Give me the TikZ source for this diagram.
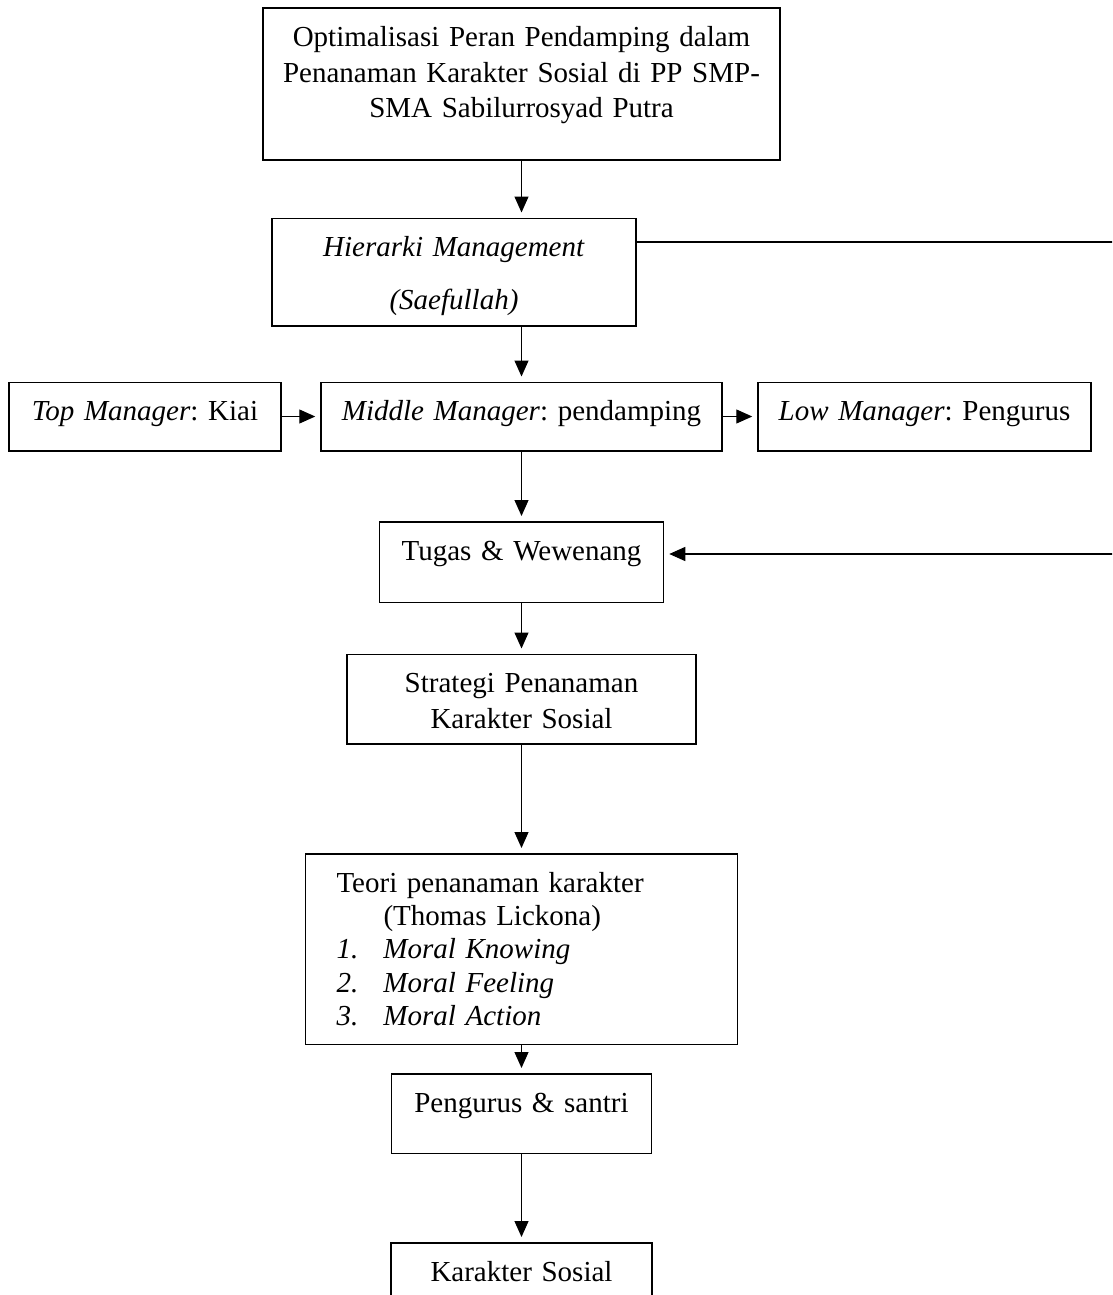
\documentclass[tikz,border=0pt]{standalone}
\usepackage{fontspec}
\setmainfont{Liberation Serif}
\usepackage{tikz}
\usetikzlibrary{arrows.meta}
\frenchspacing
\tikzstyle{box} = [rectangle, draw, line width=1.5pt, inner sep=0pt, align=center, text height=38.5pt, font=\fontsize{29}{35.5}\selectfont]
\tikzstyle{arrow} = [line width=1.2pt, ->, >={Triangle[length=16pt, width=14pt]}, shorten >=5pt]

\begin{document}
\begin{tikzpicture}[x=1pt, y=-1pt, node distance=150pt]
        \useasboundingbox (0,0) rectangle (1112,1295);
        \clip (0,0) rectangle (1112,1295);

        % Judul
        \node (title) [box, text width=517pt, text depth=113pt] at (521.5,84) {Optimalisasi Peran Pendamping dalam\\Penanaman Karakter Sosial di PP SMP-\\SMA Sabilurrosyad Putra};
        \node (hierarki) [box, text width=364pt, text depth=69pt, below of=title, xshift=-67.5pt, yshift=-38pt] {\textit{Hierarki Management}\\[17.5pt]\textit{(Saefullah)}};

        % Hierarki
        \node (middle) [box, text width=401pt, text depth=30pt, below of=hierarki, xshift=67.5pt, yshift=5.5pt] {\textit{Middle Manager}: pendamping};
        \node (topmgr) [box, text width=272pt, text depth=30pt, left of=middle, xshift=-226.5pt] {\textit{Top Manager}: Kiai};
        \node (low) [box, text width=333pt, text depth=30pt, right of=middle, xshift=253pt] {\textit{Low Manager}: Pengurus};

        % Alur bawah
        \node (tugas) [box, text width=284pt, text depth=42pt, below of=middle, yshift=4.5pt] {Tugas \& Wewenang};
        \node (strategi) [box, text width=349pt, text depth=51pt, below of=tugas, yshift=13pt] {Strategi Penanaman\\Karakter Sosial};
        \node (teori) [box, align=left, text width=370pt, inner xsep=31pt, text depth=152pt, font=\fontsize{29}{33.3}\selectfont, below of=strategi, yshift=-100pt] {Teori penanaman karakter\\\hspace*{47pt}(Thomas Lickona)\\\makebox[47pt][l]{\textit{1.}}\textit{Moral Knowing}\\\makebox[47pt][l]{\textit{2.}}\textit{Moral Feeling}\\\makebox[47pt][l]{\textit{3.}}\textit{Moral Action}};
        \node (pengurus) [box, text width=260pt, text depth=41pt, below of=teori, yshift=-14.5pt] {Pengurus \& santri};
        \node (karakter) [box, text width=261pt, text depth=40pt, below of=pengurus, yshift=-18.5pt] {Karakter Sosial};

        % Arrows
        \draw [arrow] (title.south) -- (title.south |- hierarki.north);
        \draw [arrow] (hierarki.south -| middle.north) -- (middle.north);
        \draw [arrow] (topmgr) -- (middle);
        \draw [arrow] (middle) -- (low);
        \draw [arrow] (middle) -- (tugas);
        \draw [arrow] (tugas) -- (strategi);
        \draw [arrow] (strategi) -- (teori);
        \draw [arrow] (teori) -- (pengurus);
        \draw [arrow] (pengurus) -- (karakter);

        % Garis samping
        \coordinate (sidetop) at (1130,242);
        \coordinate (sidebot) at (1130,554);
        \draw [arrow] (sidetop -| hierarki.east) -- (sidetop) -- (sidebot) -- (sidebot -| tugas.east);
\end{tikzpicture}
\end{document}
